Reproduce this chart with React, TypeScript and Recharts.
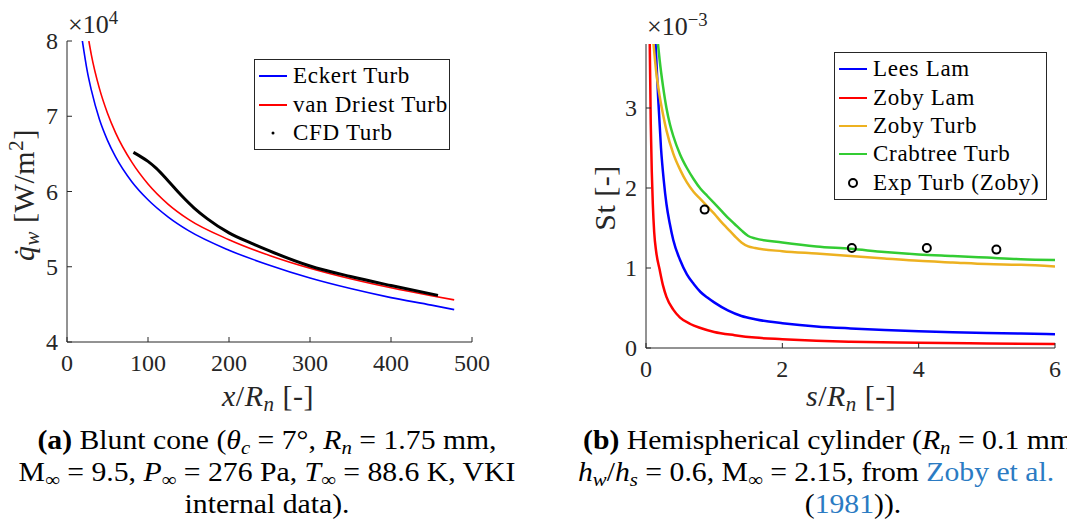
import React from 'react'
import { LineChart, Line, XAxis, YAxis } from 'recharts'

const FONT = '"Liberation Serif", serif'
const AX = '#262626'

// (a) blunt cone, heat flux in 1e4 W/m^2 vs x/Rn
const eckertX = [19, 25, 30, 40, 50, 60, 80, 100, 125, 150, 200, 250, 300, 350, 400, 450, 478]
const eckertY = [8.0, 7.6, 7.35, 6.96, 6.68, 6.46, 6.13, 5.89, 5.66, 5.48, 5.22, 5.02, 4.85, 4.71, 4.59, 4.49, 4.43]
const driestX = [27, 30, 40, 50, 60, 80, 100, 125, 150, 200, 250, 300, 350, 400, 450, 478]
const driestY = [8.0, 7.82, 7.37, 7.04, 6.78, 6.39, 6.1, 5.83, 5.63, 5.36, 5.15, 4.98, 4.84, 4.72, 4.615, 4.56]
const cfdX = [82, 90, 100, 110, 125, 141, 157, 173, 200, 228, 250, 300, 350, 400, 458]
const cfdY = [6.52, 6.47, 6.4, 6.31, 6.14, 5.95, 5.78, 5.64, 5.45, 5.31, 5.21, 5.01, 4.87, 4.75, 4.62]
const xTicksA = [0, 100, 200, 300, 400, 500]
const yTicksA = [4, 5, 6, 7, 8]

// (b) hemispherical cylinder, Stanton number in 1e-3 vs s/Rn
const leesX = [0.14, 0.18, 0.22, 0.26, 0.3, 0.35, 0.4, 0.5, 0.6, 0.7, 0.8, 0.9, 1.0, 1.2, 1.4, 1.6, 1.8, 2.0, 2.5, 3.0, 3.5, 4.0, 4.5, 5.0, 5.5, 6.0]
const leesY = [3.8, 3.1, 2.5, 2.1, 1.8, 1.55, 1.35, 1.1, 0.92, 0.8, 0.7, 0.63, 0.57, 0.47, 0.4, 0.36, 0.33, 0.31, 0.27, 0.245, 0.225, 0.21, 0.197, 0.187, 0.18, 0.173]
const zobyLamX = [0.055, 0.07, 0.085, 0.1, 0.12, 0.15, 0.2, 0.25, 0.3, 0.4, 0.5, 0.65, 0.8, 1.0, 1.3, 1.6, 2.0, 2.5, 3.0, 4.0, 5.0, 6.0]
const zobyLamY = [3.8, 2.8, 2.2, 1.8, 1.45, 1.2, 0.98, 0.78, 0.64, 0.48, 0.38, 0.3, 0.25, 0.2, 0.16, 0.13, 0.11, 0.09, 0.078, 0.065, 0.057, 0.05]
const zobyTurbX = [0.11, 0.15, 0.2, 0.25, 0.3, 0.4, 0.5, 0.6, 0.7, 0.8, 0.9, 1.0, 1.1, 1.2, 1.3, 1.4, 1.5, 1.6, 2.0, 2.5, 3.0, 3.5, 4.0, 4.5, 5.0, 5.5, 6.0]
const zobyTurbY = [3.8, 3.45, 3.15, 2.92, 2.72, 2.43, 2.23, 2.07, 1.95, 1.86, 1.77, 1.68, 1.58, 1.49, 1.4, 1.32, 1.27, 1.25, 1.21, 1.18, 1.15, 1.12, 1.09, 1.07, 1.05, 1.04, 1.02]
const crabX = [0.176, 0.2, 0.25, 0.3, 0.35, 0.4, 0.5, 0.6, 0.7, 0.8, 0.9, 1.0, 1.1, 1.2, 1.3, 1.4, 1.5, 1.6, 2.0, 2.5, 3.0, 3.5, 4.0, 4.5, 5.0, 5.5, 6.0]
const crabY = [3.8, 3.6, 3.27, 3.0, 2.8, 2.65, 2.42, 2.25, 2.11, 1.99, 1.9, 1.81, 1.72, 1.63, 1.55, 1.47, 1.4, 1.37, 1.32, 1.27, 1.24, 1.2, 1.17, 1.15, 1.13, 1.11, 1.1]
const expX = [0.86, 3.02, 4.12, 5.14]
const expY = [1.73, 1.25, 1.25, 1.23]
const xTicksB = [0, 2, 4, 6]
const yTicksB = [0, 1, 2, 3]

const pts = (xs: number[], ys: number[]) => xs.map((x, i) => ({ x, y: ys[i] }))

const BottomTick = (props: any) => {
  const { x, y, payload } = props
  const axisY = y - 6
  return (
    <g>
      <line x1={x} x2={x} y1={axisY} y2={axisY - 5} stroke={AX} />
      <text x={x} y={axisY + 29} textAnchor="middle" fontSize={24} style={{ fontFamily: FONT }} fill={AX}>
        {payload.value}
      </text>
    </g>
  )
}

const LeftTick = (props: any) => {
  const { x, y, payload } = props
  const axisX = x + 6
  return (
    <g>
      <line x1={axisX} x2={axisX + 5} y1={y} y2={y} stroke={AX} />
      <text x={axisX - 9} y={y + 8} textAnchor="end" fontSize={24} style={{ fontFamily: FONT }} fill={AX}>
        {payload.value}
      </text>
    </g>
  )
}

const Txt = ({ left, top, size = 24, style, children }: any) => (
  <div
    style={{
      position: 'absolute', left, top, fontSize: size, lineHeight: 1,
      fontFamily: FONT, whiteSpace: 'nowrap', color: '#000', ...style,
    }}
  >
    {children}
  </div>
)

const Sub = ({ children, i }: any) => (
  <sub style={{ fontSize: '0.7em', verticalAlign: '-0.25em', lineHeight: 0, fontStyle: i ? 'italic' : 'normal' }}>{children}</sub>
)
const Sup = ({ children }: any) => (
  <sup style={{ fontSize: '0.72em', verticalAlign: '0.5em', lineHeight: 0 }}>{children}</sup>
)

const LegendBox = ({ left, top, width, rows }: any) => (
  <div
    style={{
      position: 'absolute', left, top, width, border: `1px solid ${AX}`, background: '#fff',
      padding: '2px 0', fontFamily: FONT, fontSize: 23, color: '#000',
    }}
  >
    {rows.map((r: any) => (
      <div key={r.name} style={{ display: 'flex', alignItems: 'center', height: 28.4 }}>
        <svg width={36} height={20} style={{ flex: 'none' }}>
          {r.kind === 'line' && <line x1={4} x2={32} y1={10} y2={10} stroke={r.color} strokeWidth={2} />}
          {r.kind === 'dot' && <circle cx={18} cy={10} r={1.5} fill="#000" />}
          {r.kind === 'circle' && <circle cx={18} cy={10} r={4} fill="none" stroke="#000" strokeWidth={2} />}
        </svg>
        <span style={{ marginLeft: 2, letterSpacing: 0.7, fontFamily: FONT }}>{r.name}</span>
      </div>
    ))}
  </div>
)

const Rot = ({ cx, cy, size, children }: any) => (
  <div style={{ position: 'absolute', left: cx, top: cy, width: 0, height: 0 }}>
    <div style={{
      position: 'absolute', transform: 'translate(-50%, -50%) rotate(-90deg)', fontFamily: FONT,
      fontSize: size, whiteSpace: 'nowrap', color: AX, lineHeight: 1, letterSpacing: 0.5,
    }}>
      {children}
    </div>
  </div>
)

// centred caption line
const CapC = ({ cx, row, children }: any) => (
  <Txt left={cx - 400} top={427 + row * 32} size={27}
    style={{ width: 800, textAlign: 'center', transform: 'scaleX(1.1)', transformOrigin: '400px 0' }}>
    {children}
  </Txt>
)
// caption line anchored at its left edge (right side runs off the page)
const CapL = ({ left, row, children }: any) => (
  <Txt left={left} top={427 + row * 32} size={27}
    style={{ transform: 'scaleX(1.1)', transformOrigin: '0 0' }}>
    {children}
  </Txt>
)

const blue = '#0000ff'
const red = '#ff0000'
const orange = '#edb120'
const green = '#33cc33'
const link = '#2b7bc3'

export default function App() {
  return (
    <div style={{ position: 'absolute', left: 0, top: 0, width: 1067, height: 529, overflow: 'hidden', background: '#fff', fontFamily: FONT }}>
      {/* (a) */}
      <div style={{ position: 'absolute', left: 0, top: 0 }}>
        <LineChart width={540} height={420} margin={{ top: 41, right: 68, bottom: 48, left: 27 }}>
          <XAxis dataKey="x" type="number" domain={[0, 500]} ticks={xTicksA} allowDataOverflow
            height={30} tickSize={0} tickMargin={6} tickLine={false} axisLine={{ stroke: AX }} tick={<BottomTick />} />
          <XAxis xAxisId="top" orientation="top" mirror dataKey="x" type="number" domain={[0, 500]} ticks={xTicksA}
            allowDataOverflow height={0} tickSize={5} tick={false} axisLine={{ stroke: AX }} tickLine={{ stroke: AX }} />
          <YAxis type="number" domain={[4, 8]} ticks={yTicksA} allowDataOverflow width={40}
            tickSize={0} tickMargin={6} tickLine={false} axisLine={{ stroke: AX }} tick={<LeftTick />} />
          <YAxis yAxisId="right" orientation="right" mirror type="number" domain={[4, 8]} ticks={yTicksA}
            allowDataOverflow width={0} tickSize={5} tick={false} axisLine={{ stroke: AX }} tickLine={{ stroke: AX }} />
          <Line data={pts(eckertX, eckertY)} dataKey="y" type="monotone" stroke={blue} strokeWidth={1.6} dot={false} isAnimationActive={false} />
          <Line data={pts(driestX, driestY)} dataKey="y" type="monotone" stroke={red} strokeWidth={1.6} dot={false} isAnimationActive={false} />
          <Line data={pts(cfdX, cfdY)} dataKey="y" type="monotone" stroke="#000" strokeWidth={3} dot={false} isAnimationActive={false} />
        </LineChart>
      </div>

      {/* (b) */}
      <div style={{ position: 'absolute', left: 540, top: 0 }}>
        <LineChart width={527} height={420} margin={{ top: 44, right: 12, bottom: 42, left: 66 }}>
          <XAxis dataKey="x" type="number" domain={[0, 6]} ticks={xTicksB} allowDataOverflow
            height={30} tickSize={0} tickMargin={6} tickLine={false} axisLine={{ stroke: AX }} tick={<BottomTick />} />
          <XAxis xAxisId="top" orientation="top" mirror dataKey="x" type="number" domain={[0, 6]} ticks={xTicksB}
            allowDataOverflow height={0} tickSize={5} tick={false} axisLine={{ stroke: AX }} tickLine={{ stroke: AX }} />
          <YAxis type="number" domain={[0, 3.8]} ticks={yTicksB} allowDataOverflow width={40}
            tickSize={0} tickMargin={6} tickLine={false} axisLine={{ stroke: AX }} tick={<LeftTick />} />
          <YAxis yAxisId="right" orientation="right" mirror type="number" domain={[0, 3.8]} ticks={yTicksB}
            allowDataOverflow width={0} tickSize={5} tick={false} axisLine={{ stroke: AX }} tickLine={{ stroke: AX }} />
          <Line data={pts(leesX, leesY)} dataKey="y" type="monotone" stroke={blue} strokeWidth={2.5} dot={false} isAnimationActive={false} />
          <Line data={pts(zobyLamX, zobyLamY)} dataKey="y" type="monotone" stroke={red} strokeWidth={2.5} dot={false} isAnimationActive={false} />
          <Line data={pts(zobyTurbX, zobyTurbY)} dataKey="y" type="monotone" stroke={orange} strokeWidth={2.5} dot={false} isAnimationActive={false} />
          <Line data={pts(crabX, crabY)} dataKey="y" type="monotone" stroke={green} strokeWidth={2.5} dot={false} isAnimationActive={false} />
          <Line data={pts(expX, expY)} dataKey="y" stroke="none" isAnimationActive={false}
            dot={{ r: 4, stroke: '#000', strokeWidth: 2, fill: 'none' }} activeDot={false} />
        </LineChart>
      </div>

      {/* axis decorations (a) */}
      <Txt left={68} top={12} size={26} style={{ color: AX }}>×10<Sup>4</Sup></Txt>
      <Txt left={222} top={381} size={30} style={{ color: AX, letterSpacing: 0.5 }}>
        <i>x</i>/<i>R</i><Sub i>n</Sub> [-]
      </Txt>
      <Rot cx={24} cy={195} size={30}>
        <i>q̇</i><Sub i>w</Sub> [W/m<Sup>2</Sup>]
      </Rot>
      <LegendBox left={254} top={59} width={194} rows={[
        { name: 'Eckert Turb', kind: 'line', color: blue },
        { name: 'van Driest Turb', kind: 'line', color: red },
        { name: 'CFD Turb', kind: 'dot' },
      ]} />

      {/* axis decorations (b) */}
      <Txt left={647} top={14} size={26} style={{ color: AX }}>×10<Sup>−3</Sup></Txt>
      <Txt left={806} top={381} size={30} style={{ color: AX, letterSpacing: 0.5 }}>
        <i>s</i>/<i>R</i><Sub i>n</Sub> [-]
      </Txt>
      <Rot cx={605} cy={198} size={30}>St [-]</Rot>
      <LegendBox left={834} top={52} width={211} rows={[
        { name: 'Lees Lam', kind: 'line', color: blue },
        { name: 'Zoby Lam', kind: 'line', color: red },
        { name: 'Zoby Turb', kind: 'line', color: orange },
        { name: 'Crabtree Turb', kind: 'line', color: green },
        { name: 'Exp Turb (Zoby)', kind: 'circle' },
      ]} />

      {/* captions */}
      <CapC cx={267} row={0}><b>(a)</b> Blunt cone (<i>θ</i><Sub i>c</Sub> = 7°, <i>R</i><Sub i>n</Sub> = 1.75 mm,</CapC>
      <CapC cx={267} row={1}>M<Sub>∞</Sub> = 9.5, <i>P</i><Sub>∞</Sub> = 276 Pa, <i>T</i><Sub>∞</Sub> = 88.6 K, VKI</CapC>
      <CapC cx={267} row={2}>internal data).</CapC>

      <CapL left={583} row={0}><b>(b)</b> Hemispherical cylinder (<i>R</i><Sub i>n</Sub> = 0.1 mm,</CapL>
      <CapL left={578} row={1}>
        <i>h</i><Sub i>w</Sub>/<i>h</i><Sub i>s</Sub> = 0.6, M<Sub>∞</Sub> = 2.15, from <span style={{ color: link }}>Zoby et al.</span>
      </CapL>
      <CapC cx={853} row={2}>(<span style={{ color: link }}>1981</span>)).</CapC>
    </div>
  )
}
